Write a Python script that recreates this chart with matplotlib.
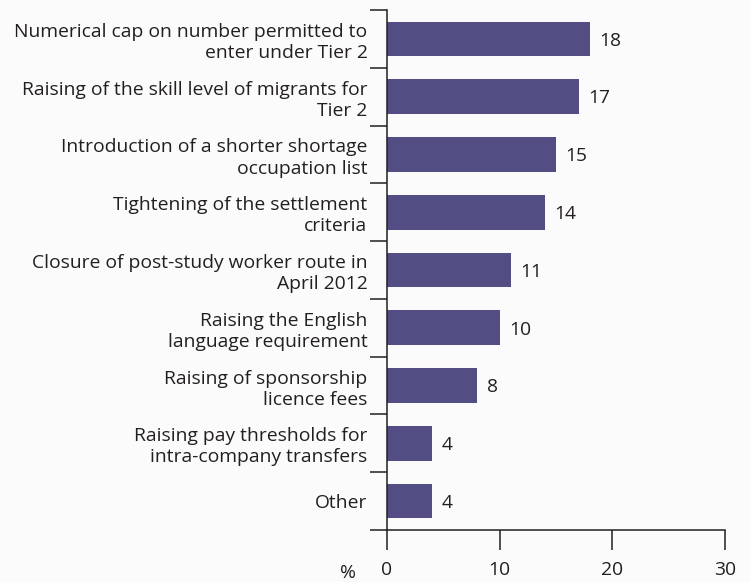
import matplotlib
matplotlib.use("Agg")
import matplotlib.pyplot as plt

plt.rcParams['font.family'] = ['Open Sans', 'DejaVu Sans']

categories = [
    "Numerical cap on number permitted to\nenter under Tier 2",
    "Raising of the skill level of migrants for\nTier 2",
    "Introduction of a shorter shortage\noccupation list",
    "Tightening of the settlement\ncriteria",
    "Closure of post-study worker route in\nApril 2012",
    "Raising the English\nlanguage requirement",
    "Raising of sponsorship\nlicence fees",
    "Raising pay thresholds for\nintra-company transfers",
    "Other",
]
values = [18, 17, 15, 14, 11, 10, 8, 4, 4]
xticks = [0, 10, 20, 30]

bar_color = "#524e84"
ink = "#231f20"
fs = 13.9

fig = plt.figure(figsize=(7.51, 5.82), dpi=100)
fig.patch.set_facecolor("#fbfbfb")
ax = fig.add_axes([387/751, 52/582, 338/751, 520/582])
ax.set_facecolor("#fbfbfb")

pos = list(range(len(values)))
ax.barh(pos, values, height=0.6, color=bar_color)
for y, v in zip(pos, values):
    ax.text(v + 0.85, y + 0.03, str(v), va="center", ha="left", fontsize=fs, color=ink)

ax.set_xlim(0, 30)
ax.set_ylim(len(values) - 0.5, -0.5)

# boundary ticks between categories, labels sit on minor ticks at centres
ax.set_yticks([i - 0.5 for i in range(len(values) + 1)])
ax.set_yticklabels([])
ax.set_yticks(pos, minor=True)
ax.set_yticklabels(categories, minor=True, fontsize=fs, color=ink, linespacing=1.22)
ax.tick_params(axis="y", which="major", direction="out", length=12, width=1.1, color=ink)
ax.tick_params(axis="y", which="minor", length=0, pad=14)

ax.set_xticks(xticks)
ax.set_xticklabels([str(t) for t in xticks], fontsize=fs, color=ink)
ax.tick_params(axis="x", direction="out", length=14.5, width=1.1, color=ink, pad=8)

for s in ("top", "right"):
    ax.spines[s].set_visible(False)
for s in ("left", "bottom"):
    ax.spines[s].set_linewidth(1.1)
    ax.spines[s].set_color(ink)

fig.text(348/751, 1 - 573/582, "%", ha="center", va="center", fontsize=fs, color=ink)

fig.savefig("out.png", dpi=100, facecolor=fig.get_facecolor())
